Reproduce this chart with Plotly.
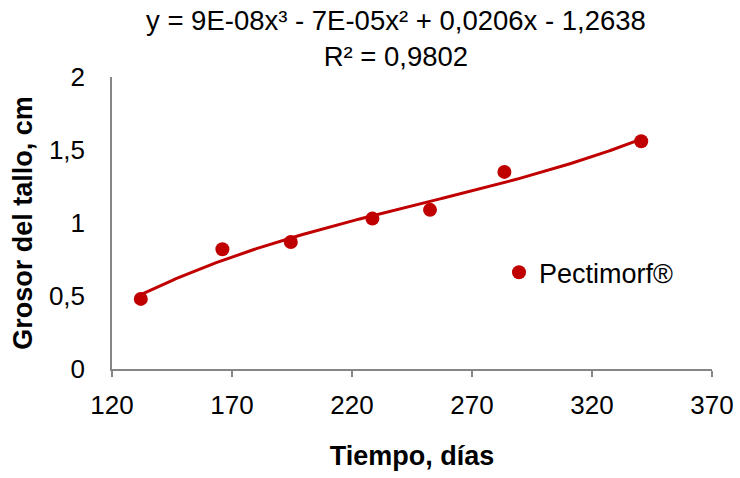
import numpy as np
import plotly.graph_objects as go

# Stem thickness measurements over time
dias = [132, 166, 194.5, 228.5, 252.5, 283.5, 340.5]
grosor = [0.48, 0.82, 0.87, 1.03, 1.09, 1.35, 1.56]
serie = "Pectimorf®"

x_ticks = [120, 170, 220, 270, 320, 370]
y_ticks = [0, 0.5, 1, 1.5, 2]

rojo = "#C00000"
gris = "#868686"
fuente = "Liberation Sans, Arial, sans-serif"

# Third-degree polynomial trendline fitted to the measurements
coef = np.polyfit(dias, grosor, 3)
xs = np.linspace(min(dias), max(dias), 200)
ys = np.polyval(coef, xs)

fig = go.Figure()
fig.add_trace(go.Scatter(
    x=xs, y=ys, mode="lines", showlegend=False, hoverinfo="skip",
    line=dict(color=rojo, width=3),
))
fig.add_trace(go.Scatter(
    x=dias, y=grosor, mode="markers", name=serie,
    marker=dict(color=rojo, size=14, line=dict(width=0)),
))

fig.update_layout(
    width=740, height=478,
    margin=dict(l=111.5, r=28, t=77, b=108.5),
    paper_bgcolor="white", plot_bgcolor="white",
    separators=",.",
    font=dict(family=fuente, size=26, color="black"),
    showlegend=True,
    legend=dict(x=0.645, y=0.33, xanchor="left", yanchor="middle",
                bgcolor="rgba(0,0,0,0)", font=dict(size=27),
                itemwidth=30),
    annotations=[
        dict(text="y = 9E-08x³ - 7E-05x² + 0,0206x - 1,2638<br>R² = 0,9802",
             xref="paper", yref="paper", x=(396 - 111.5) / 600.5, y=1.0,
             yshift=3, xanchor="center", yanchor="bottom", showarrow=False,
             font=dict(size=27.5)),
    ],
)

fig.update_xaxes(
    range=[120, 370], tickvals=x_ticks, showgrid=False, zeroline=False,
    showline=True, linecolor=gris, linewidth=1.5, automargin=False,
    ticks="outside", ticklen=6, tickcolor=gris, tickwidth=1.5,
    tickfont=dict(size=26), ticklabelstandoff=6,
    title=dict(text="<b>Tiempo, días</b>", font=dict(size=27), standoff=27),
)
fig.update_yaxes(
    range=[0, 2], tickvals=y_ticks, showgrid=False, zeroline=False,
    showline=True, linecolor=gris, linewidth=1.5, ticks="", automargin=False,
    tickfont=dict(size=26), ticklabelstandoff=20,
    title=dict(text="<b>Grosor del tallo, cm</b>", font=dict(size=27), standoff=8),
)

fig.write_html("out.html")
